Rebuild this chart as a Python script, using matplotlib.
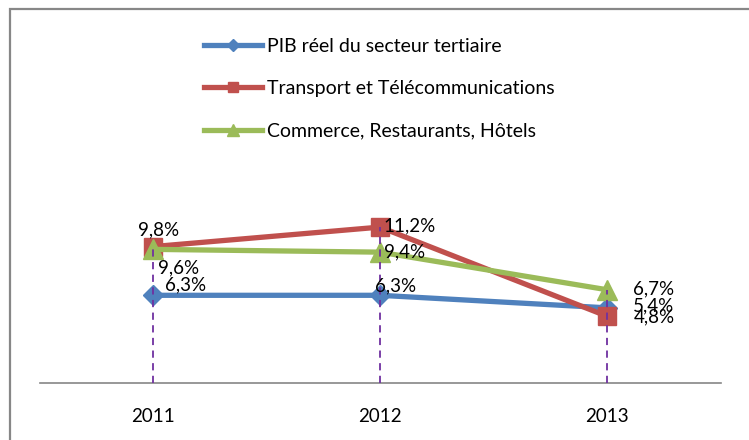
import matplotlib
matplotlib.use("Agg")
import matplotlib.pyplot as plt
from matplotlib.patches import Rectangle

years = ["2011", "2012", "2013"]
pib = [6.3, 6.3, 5.4]
transport = [9.8, 11.2, 4.8]
commerce = [9.6, 9.4, 6.7]
series_names = ["PIB réel du secteur tertiaire",
                "Transport et Télécommunications",
                "Commerce, Restaurants, Hôtels"]

plt.rcParams['font.family'] = ['Lato', 'DejaVu Sans']
FS = 13.5

W, H = 749, 440
fig = plt.figure(figsize=(W / 100, H / 100), dpi=100)
ax = fig.add_axes([39.5 / W, 1 - 383 / H, 681 / W, 348 / H])

x = list(range(len(years)))
blue, red, green = "#4F81BD", "#C0504D", "#9BBB59"

ax.plot(x, pib, color=blue, lw=3.8, marker="D", ms=10, label=series_names[0], zorder=3)
ax.plot(x, transport, color=red, lw=3.8, marker="s", ms=13, label=series_names[1], zorder=3)
ax.plot(x, commerce, color=green, lw=3.8, marker="^", ms=14, label=series_names[2], zorder=3)

# drop lines from the highest point of each year
tops = [max(a, b, c) for a, b, c in zip(pib, transport, commerce)]
ax.vlines(x, 0, tops, colors="#7030A0", linestyles=(0, (4, 3)), lw=1.3, zorder=5)

# data labels, pixel offsets of the text centre
offs = {
    "pib": [(33, 10), (16, 9), (47, 2)],
    "transport": [(6, 17), (30, 1), (47, -1)],
    "commerce": [(26, -19), (25, 0), (47, 1)],
}
for key, vals in (("pib", pib), ("transport", transport), ("commerce", commerce)):
    for i, v in enumerate(vals):
        dx, dy = offs[key][i]
        ax.annotate(f"{v:.1f}%".replace(".", ","), (i, v), xytext=(dx * 0.72, dy * 0.72),
                    textcoords="offset points", ha="center", va="center",
                    fontsize=FS, color="black", zorder=6)

ax.set_xlim(-0.5, 2.5)
ax.set_ylim(0, 25)
ax.set_xticks(x)
ax.set_xticklabels(years, fontsize=FS)
ax.tick_params(axis="x", length=0, pad=18)
ax.set_yticks([])
for s in ("top", "right", "left"):
    ax.spines[s].set_visible(False)
ax.spines["bottom"].set_color("#868686")
ax.spines["bottom"].set_linewidth(1.2)

ax.legend(loc="upper left", bbox_to_anchor=(204 / W, 1 - 38 / H), bbox_transform=fig.transFigure,
          frameon=False, fontsize=14, handlelength=3.0, labelspacing=1.3,
          handletextpad=0.25, markerscale=0.6, borderpad=0, borderaxespad=0)

fig.patches.append(Rectangle((9.5 / W, -0.1), 1.2, 1 - 9.5 / H + 0.1, transform=fig.transFigure,
                             fill=False, edgecolor="#878787", lw=1.6))

fig.savefig("out.png", dpi=100)
